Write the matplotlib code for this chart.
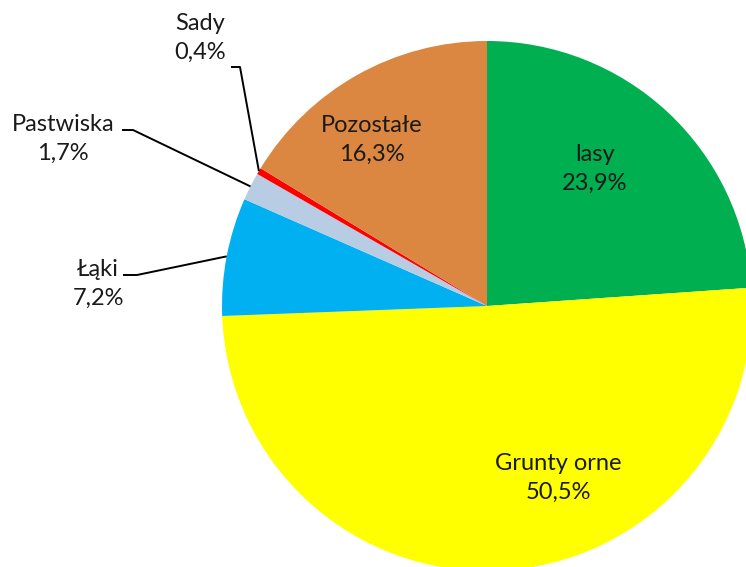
import numpy as np
import matplotlib.pyplot as plt

labels = ["lasy", "Grunty orne", "Łąki", "Pastwiska", "Sady", "Pozostałe"]
values = [23.9, 50.5, 7.2, 1.7, 0.4, 16.3]
colors = ["#00B050", "#FFFF00", "#00B0F0", "#B8CCE4", "#FF0000", "#DB8641"]

plt.rcParams['font.family'] = ['Lato', 'DejaVu Sans']

fig = plt.figure(figsize=(7.46, 5.67), dpi=100)
ax = fig.add_axes([0, 0, 1, 1])

cx, cy, r = 487, 261, 265
wedges, _ = ax.pie(values, colors=colors, startangle=90, counterclock=False,
                   center=(cx, cy), radius=r, frame=True,
                   wedgeprops=dict(linewidth=0))
ax.set_xlim(0, 746)
ax.set_ylim(0, 567)
ax.axis("off")

def pct(v):
    return ("%.1f%%" % v).replace(".", ",")

fs = 17
# labels inside slices
inside = {0: (595, 567 - 169), 1: (558, 567 - 478), 5: (372, 567 - 140)}
for i, (x, y) in inside.items():
    ax.text(x, y, labels[i] + "\n" + pct(values[i]), ha="center", va="center",
            fontsize=fs, linespacing=1.5, color="#1a1a1a")

# labels outside with leader lines
outside = {2: (98, 567 - 284, 123, 137), 3: (63, 567 - 139, 122, 133),
           4: (200, 567 - 38, 231, 240)}
line_y = {2: 567 - 275, 3: 567 - 130, 4: 567 - 67}
for i, (x, y, x0, x1) in outside.items():
    ax.text(x, y, labels[i] + "\n" + pct(values[i]), ha="center", va="center",
            fontsize=fs, linespacing=1.5, color="#1a1a1a")
    w = wedges[i]
    ang = np.deg2rad((w.theta1 + w.theta2) / 2)
    ex, ey = cx + r * np.cos(ang), cy + r * np.sin(ang)
    ax.plot([x0, x1, ex], [line_y[i], line_y[i], ey], color="black", lw=1.4,
            solid_capstyle="butt")

fig.savefig("out.png", dpi=100)
